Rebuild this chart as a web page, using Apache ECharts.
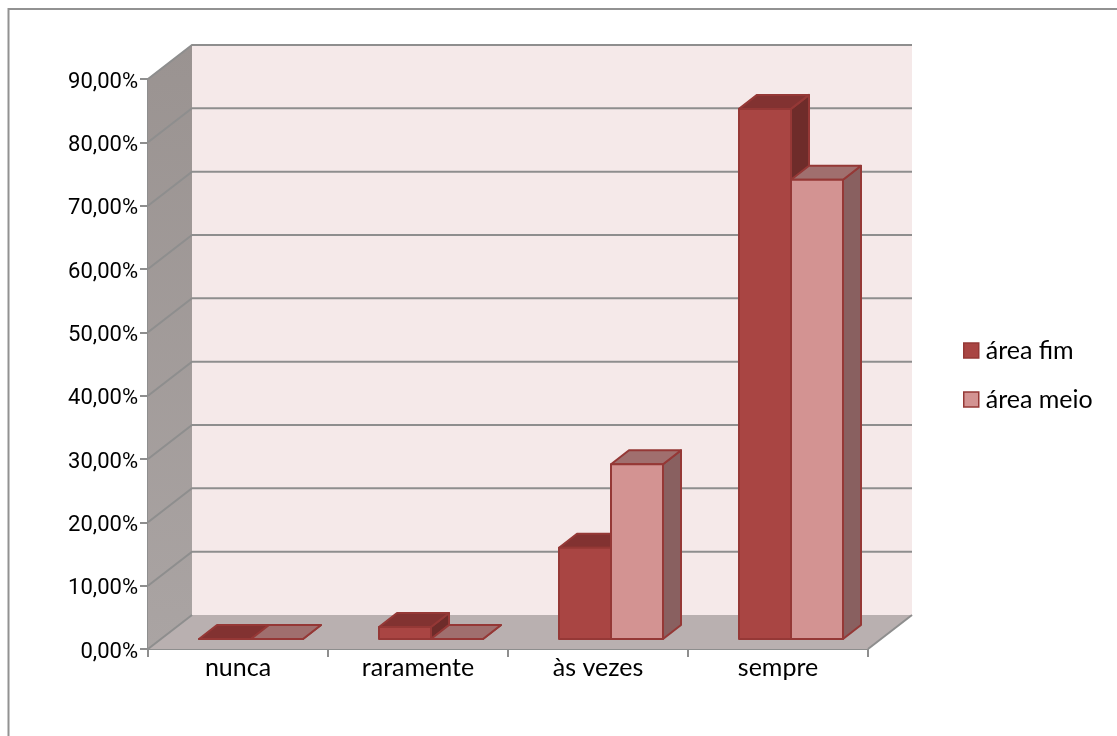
<!DOCTYPE html>
<html style="height: 100%">
<head>
<meta charset="utf-8">
<script src="https://cdn.jsdelivr.net/npm/echarts@6/dist/echarts.min.js"></script>
</head>
<body style="height: 100%; margin: 0; background: #fff">
<div id="container" style="width: 1117px; height: 736px"></div>
<script>
var categories = ['nunca', 'raramente', 'às vezes', 'sempre'];
var areaFim = [0, 1.9, 14.4, 83.7];
var areaMeio = [0, 0, 27.6, 72.5];
var yTicks = [0, 10, 20, 30, 40, 50, 60, 70, 80, 90];

var chart = echarts.init(document.getElementById('container'));

// fake 3d: how far the back wall sits from the axis plane, in pixels
var wallDx = 44, wallDy = -34;
var barDx = 18, barDy = -14;
var frontDx = 13, frontDy = -10;
var gapShare = 38 / 180;

var lineColor = '#8e8e8e';

function poly(points, fill, stroke, width) {
    return {
        type: 'polygon',
        shape: { points: points },
        style: { fill: fill, stroke: stroke || null, lineWidth: width || 0, lineJoin: 'round' }
    };
}

function line(points) {
    return {
        type: 'polyline',
        shape: { points: points },
        style: { fill: null, stroke: lineColor, lineWidth: 2 }
    };
}

function renderWalls(params, api) {
    var v = api.value(0);
    var bl = api.coord([0, 0]);
    var s = api.size([1, 0]);
    var left = bl[0] - s[0] / 2;
    var right = left + s[0] * categories.length;
    var base = bl[1];
    var top = api.coord([0, yTicks[yTicks.length - 1]])[1];
    var y = api.coord([0, v])[1];
    var children = [];
    if (params.dataIndex === 0) {
        children.push(poly([[left + wallDx, top + wallDy], [right + wallDx, top + wallDy], [right + wallDx, base + wallDy], [left + wallDx, base + wallDy]], '#f5e9e9'));
        children.push(poly([[left, top], [left + wallDx, top + wallDy], [left + wallDx, base + wallDy], [left, base]], {
            type: 'linear', x: 0, y: 0, x2: 0, y2: 1,
            colorStops: [{ offset: 0, color: '#9a9391' }, { offset: 1, color: '#aaa4a3' }]
        }));
        children.push(poly([[left, base], [left + wallDx, base + wallDy], [right + wallDx, base + wallDy], [right, base]], '#b9b0b0'));
        children.push(line([[left, base], [left + wallDx, base + wallDy]]));
        children.push(line([[right, base], [right + wallDx, base + wallDy]]));
    }
    if (v > 0) {
        children.push(line([[left, y], [left + wallDx, y + wallDy], [right + wallDx, y + wallDy]]));
    }
    return { type: 'group', children: children };
}

function barRenderer(slot, faces) {
    return function (params, api) {
        var cat = api.value(0);
        var p = api.coord([cat, api.value(1)]);
        var s = api.size([1, 0]);
        var barW = s[0] * (1 - 2 * gapShare) / 2;
        var x0 = p[0] - s[0] / 2 + s[0] * gapShare + frontDx + barW * slot;
        var x1 = x0 + barW;
        var yTop = p[1] + frontDy;
        var yBase = api.coord([cat, 0])[1] + frontDy;
        var border = '#953836';
        return {
            type: 'group',
            children: [
                poly([[x1, yTop], [x1 + barDx, yTop + barDy], [x1 + barDx, yBase + barDy], [x1, yBase]], faces.side, border, 2),
                poly([[x0, yTop], [x0 + barDx, yTop + barDy], [x1 + barDx, yTop + barDy], [x1, yTop]], faces.top, border, 2),
                poly([[x0, yTop], [x1, yTop], [x1, yBase], [x0, yBase]], faces.front, border, 2)
            ]
        };
    };
}

function pairs(values) {
    return values.map(function (v, i) { return [i, v]; });
}

var fimFaces = { front: '#a94543', top: '#823231', side: '#6e2c2a' };
var meioFaces = { front: '#d39392', top: '#a06f6e', side: '#896060' };

var option = {
    animation: false,
    backgroundColor: '#fff',
    textStyle: { fontFamily: 'Lato', color: '#000' },
    grid: { left: 148, top: 79, width: 720, height: 570 },
    graphic: [{
        // the chart frame runs off the right and bottom of the picture
        type: 'rect',
        shape: { x: 8.5, y: 9, width: 1300, height: 900 },
        style: { fill: null, stroke: '#929292', lineWidth: 2 },
        silent: true
    }],
    legend: {
        orient: 'vertical',
        left: 963,
        top: 338,
        padding: 0,
        itemWidth: 15,
        itemHeight: 15,
        itemGap: 24,
        selectedMode: false,
        textStyle: { fontFamily: 'Lato', fontSize: 25, lineHeight: 20, color: '#000', padding: [0, 0, 0, 2] },
        data: [
            { name: 'área fim', icon: 'rect', itemStyle: { color: fimFaces.front, borderColor: '#953836', borderWidth: 1.5 } },
            { name: 'área meio', icon: 'rect', itemStyle: { color: meioFaces.front, borderColor: '#953836', borderWidth: 1.5 } }
        ]
    },
    xAxis: {
        type: 'category',
        data: categories,
        axisLine: { lineStyle: { color: lineColor, width: 2 } },
        axisTick: { show: true, length: 8, lineStyle: { color: lineColor, width: 2 } },
        axisLabel: { fontFamily: 'Lato', fontSize: 25, color: '#000', margin: 6 }
    },
    yAxis: {
        type: 'value',
        min: 0,
        max: 90,
        interval: 10,
        splitLine: { show: false },
        axisLine: { show: true, lineStyle: { color: lineColor, width: 2 } },
        axisTick: { show: true, length: 8, lineStyle: { color: lineColor, width: 2 } },
        axisLabel: {
            fontFamily: 'Roboto', fontSize: 22, color: '#000', margin: 10,
            // labels sit a little below their ticks in the original
            verticalAlign: 'top', lineHeight: 6,
            formatter: function (v) { return v.toFixed(2).replace('.', ',') + '%'; }
        }
    },
    series: [
        {
            type: 'custom',
            silent: true,
            renderItem: renderWalls,
            data: yTicks,
            encode: { x: -1, y: 0 },
            clip: false
        },
        {
            name: 'área fim',
            type: 'custom',
            renderItem: barRenderer(0, fimFaces),
            data: pairs(areaFim),
            encode: { x: 0, y: 1 },
            clip: false
        },
        {
            name: 'área meio',
            type: 'custom',
            renderItem: barRenderer(1, meioFaces),
            data: pairs(areaMeio),
            encode: { x: 0, y: 1 },
            clip: false
        }
    ]
};

chart.setOption(option);
</script>
</body>
</html>
